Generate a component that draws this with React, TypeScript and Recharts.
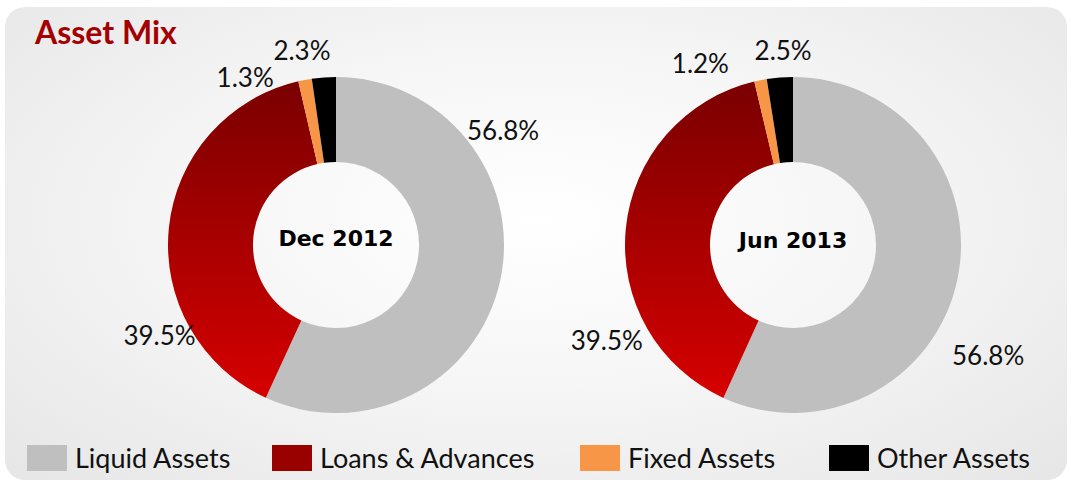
import { PieChart, Pie, Cell, Legend } from 'recharts'

const categories = ['Liquid Assets', 'Loans & Advances', 'Fixed Assets', 'Other Assets']
const dec2012 = [56.8, 39.5, 1.3, 2.3]
const jun2013 = [56.8, 39.5, 1.2, 2.5]
const periods = ['Dec 2012', 'Jun 2013']

const sliceFills = ['#bfbfbf', 'url(#redFade)', '#f79646', '#000000']
const legendFills = ['#bfbfbf', '#990000', '#f79646', '#000000']

// label anchors as [angle deg, distance px] from each pie centre (labels were dragged in the original)
const decLabelPos: [number, number][] = [[34.6, 203], [207, 198], [118.4, 191], [99.9, 198]]
const junLabelPos: [number, number][] = [[-29.4, 224], [207, 209], [117, 204], [92.9, 195]]

const toRows = (values: number[]) => values.map((v, i) => ({ name: categories[i], value: v }))

const FONT = 'Lato, "DejaVu Sans", sans-serif'

function makeLabel(pos: [number, number][]) {
  return (props: any) => {
    const { cx, cy, index, value } = props
    const [deg, dist] = pos[index]
    const rad = (deg * Math.PI) / 180
    const x = cx + dist * Math.cos(rad)
    const y = cy - dist * Math.sin(rad)
    return (
      <text x={x} y={y} textAnchor="middle" dominantBaseline="central" fontFamily={FONT} fontSize={26} fill="#111">
        {value.toFixed(1)}%
      </text>
    )
  }
}

const legendX = [27, 272, 580, 829]

function LegendBox() {
  return (
    <div style={{ position: 'relative', width: 1071, height: 30 }}>
      {categories.map((c, i) => (
        <div key={c} style={{ position: 'absolute', left: legendX[i], top: 0, display: 'flex', alignItems: 'center' }}>
          <span style={{ width: 40, height: 26, background: legendFills[i], display: 'inline-block' }} />
          <span style={{ marginLeft: 8, fontFamily: FONT, fontSize: 27, color: '#111' }}>{c}</span>
        </div>
      ))}
    </div>
  )
}

export default function App() {
  return (
    <div style={{ position: 'absolute', left: 0, top: 0, width: 1071, height: 486, background: '#fff' }}>
      <div
        style={{
          position: 'absolute',
          left: 5,
          top: 7,
          width: 1062,
          height: 473,
          borderRadius: 20,
          background: 'radial-gradient(ellipse at 50% 45%, #ffffff 0%, #f6f6f6 45%, #e6e6e6 100%)',
        }}
      />
      <div
        style={{
          position: 'absolute',
          left: 35,
          top: 12,
          fontFamily: FONT,
          fontWeight: 700,
          fontSize: 32,
          color: '#a50000',
        }}
      >
        Asset Mix
      </div>
      <div style={{ position: 'absolute', left: 0, top: 0 }}>
        <PieChart width={1071} height={486} margin={{ top: 0, right: 0, bottom: 0, left: 0 }}>
          <defs>
            <linearGradient id="redFade" x1="0" y1="0" x2="0" y2="1">
              <stop offset="0%" stopColor="#7a0000" />
              <stop offset="100%" stopColor="#d60000" />
            </linearGradient>
          </defs>
          <Pie
            data={toRows(dec2012)}
            dataKey="value"
            cx={336}
            cy={245}
            innerRadius={83}
            outerRadius={168}
            startAngle={90}
            endAngle={-270}
            stroke="none"
            labelLine={false}
            label={makeLabel(decLabelPos)}
            isAnimationActive={false}
          >
            {dec2012.map((_, i) => (
              <Cell key={i} fill={sliceFills[i]} />
            ))}
          </Pie>
          <Pie
            data={toRows(jun2013)}
            dataKey="value"
            cx={793}
            cy={245}
            innerRadius={83}
            outerRadius={168}
            startAngle={90}
            endAngle={-270}
            stroke="none"
            labelLine={false}
            label={makeLabel(junLabelPos)}
            isAnimationActive={false}
          >
            {jun2013.map((_, i) => (
              <Cell key={i} fill={sliceFills[i]} />
            ))}
          </Pie>
          <text x={336} y={238} textAnchor="middle" dominantBaseline="central" fontFamily='"DejaVu Sans", sans-serif' fontWeight={700} fontSize={22} fill="#000">
            {periods[0]}
          </text>
          <text x={793} y={240} textAnchor="middle" dominantBaseline="central" fontFamily='"DejaVu Sans", sans-serif' fontWeight={700} fontSize={22} fill="#000">
            {periods[1]}
          </text>
          <Legend content={() => <LegendBox />} wrapperStyle={{ left: 0, top: 441, width: 1071 }} />
        </PieChart>
      </div>
    </div>
  )
}
